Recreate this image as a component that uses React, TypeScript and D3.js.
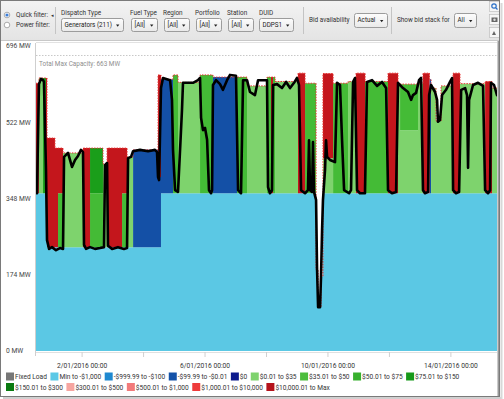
import { useMemo } from "react";
import * as d3 from "d3";

const FONT = "Roboto, 'Noto Sans', sans-serif";

// time window shown: hours counted from 31/12/2015 12:00
const rangeStart = new Date(2015, 11, 31, 12);
const rangeHours = 360;
const tickDays = [2, 4, 6, 8, 10, 12, 14];
const labelDays = [2, 6, 10, 14];
const yTicks = [0, 174, 348, 522, 696];
const maxCapacity = 663;

// bid stack, one value per band for each segment (segment starts at segHours[i])
const segHours = [0, 2.3, 5.5, 7.8, 8.6, 14.8, 17.2, 21.1, 36.7, 42.2, 52.3, 55.5, 67.2, 71.1, 75.8, 95.3, 97.6, 107.0, 110.9, 128.1, 138.2, 157.0, 164.8, 180.4, 183.5, 185.1, 186.7, 204.6, 210.1, 218.7, 220.3, 222.6, 224.1, 232.0, 243.7, 249.9, 257.0, 274.9, 282.7, 284.3, 298.3, 302.2, 307.3, 308.5, 312.4, 316.3, 325.7, 331.1, 350.7, 356.1];
const minTo1000 = [360, 360, 360, 360, 237, 237, 237, 237, 237, 237, 237, 237, 237, 237, 237, 237, 360, 360, 360, 360, 360, 360, 360, 360, 360, 360, 360, 360, 360, 185, 100, 170, 360, 360, 360, 360, 360, 360, 360, 360, 360, 360, 360, 360, 360, 360, 360, 360, 360, 360];
const neg99 = [0, 0, 0, 0, 0, 0, 0, 0, 0, 0, 0, 0, 0, 0, 222, 160, 260, 0, 0, 0, 265, 0, 0, 0, 0, 0, 0, 0, 0, 0, 0, 0, 0, 0, 0, 0, 0, 0, 0, 0, 0, 0, 260, 0, 0, 0, 0, 0, 0, 0];
const p0to35 = [0, 263, 0, 0, 0, 0, 0, 215, 0, 0, 190, 0, 0, 206, 0, 0, 0, 0, 253, 0, 0, 0, 245, 0, 0, 0, 255, 0, 0, 0, 0, 0, 80, 0, 255, 0, 0, 0, 250, 144, 250, 0, 0, 240, 165, 245, 0, 250, 0, 240];
const p35to50 = [0, 0, 0, 0, 0, 0, 123, 0, 0, 123, 0, 0, 123, 0, 0, 0, 0, 270, 0, 270, 0, 265, 0, 265, 0, 265, 0, 0, 251, 0, 0, 0, 0, 251, 0, 0, 255, 0, 0, 105, 0, 0, 0, 0, 0, 0, 0, 0, 0, 0];
const p75to150 = [0, 0, 263, 0, 0, 0, 0, 0, 0, 103, 0, 0, 0, 0, 0, 0, 0, 0, 0, 0, 0, 0, 0, 0, 0, 0, 0, 0, 0, 0, 0, 0, 0, 0, 0, 0, 0, 0, 0, 0, 0, 0, 0, 0, 0, 0, 0, 0, 0, 0];
const p10000 = [251, 0, 0, 263, 249, 226, 103, 0, 226, 0, 0, 226, 103, 0, 0, 233, 0, 0, 0, 0, 0, 0, 0, 0, 265, 0, 0, 274, 0, 0, 0, 0, 193, 0, 0, 274, 0, 274, 0, 0, 0, 274, 0, 0, 0, 0, 274, 0, 255, 0];

// dispatched output (black line)
const genHours = [0.8, 2.3, 3.9, 5.5, 6.2, 7.8, 8.6, 10.2, 12.5, 15.6, 18.7, 21.1, 21.9, 25.0, 28.1, 30.5, 32.8, 35.1, 36.7, 37.5, 39.1, 42.2, 46.1, 50.0, 53.1, 53.9, 55.5, 56.2, 59.4, 64.0, 68.7, 71.1, 71.9, 74.2, 75.8, 81.2, 87.5, 92.9, 94.5, 95.3, 96.1, 97.6, 99.2, 104.7, 106.2, 107.0, 108.6, 110.9, 112.5, 114.0, 114.8, 122.6, 126.5, 128.1, 128.9, 130.4, 132.0, 133.6, 135.1, 136.7, 137.5, 138.2, 140.6, 143.7, 146.0, 149.2, 151.5, 156.2, 157.8, 160.1, 161.7, 164.8, 167.1, 171.0, 173.4, 180.4, 181.2, 182.7, 184.3, 185.1, 188.2, 192.1, 195.3, 198.4, 201.5, 203.8, 205.4, 207.0, 210.1, 212.4, 213.2, 214.0, 215.6, 216.3, 217.1, 218.7, 219.5, 220.3, 221.8, 222.6, 223.4, 224.1, 225.7, 226.5, 227.3, 229.6, 233.5, 235.1, 237.4, 239.0, 240.6, 244.5, 246.0, 247.6, 249.1, 250.7, 253.0, 256.9, 258.5, 262.4, 266.3, 270.2, 273.4, 274.9, 278.0, 281.2, 282.7, 286.6, 290.5, 292.9, 294.4, 296.8, 299.1, 300.7, 302.2, 303.8, 306.2, 307.0, 308.5, 311.6, 313.2, 313.9, 315.5, 317.1, 320.2, 323.3, 324.9, 325.7, 328.0, 330.4, 332.0, 335.1, 336.6, 337.4, 338.2, 341.3, 345.2, 349.1, 350.7, 353.0, 354.6, 355.3, 357.7, 360];
const genMW = [360, 609, 621, 618, 614, 413, 253, 233, 237, 230, 235, 233, 443, 452, 420, 436, 445, 459, 454, 242, 233, 237, 233, 235, 237, 424, 429, 240, 233, 237, 233, 235, 440, 443, 456, 459, 456, 459, 454, 397, 390, 600, 623, 618, 573, 459, 367, 363, 459, 550, 612, 612, 618, 623, 532, 504, 509, 482, 367, 360, 367, 607, 618, 609, 596, 618, 630, 628, 367, 360, 618, 618, 591, 584, 618, 618, 374, 360, 367, 607, 609, 600, 614, 600, 612, 623, 607, 367, 360, 367, 481, 367, 363, 477, 363, 345, 185, 100, 100, 173, 276, 345, 413, 481, 443, 436, 431, 612, 607, 481, 367, 360, 367, 614, 623, 367, 360, 360, 614, 618, 605, 614, 600, 367, 360, 363, 612, 600, 591, 573, 584, 589, 618, 623, 367, 360, 363, 584, 607, 591, 573, 523, 527, 584, 596, 614, 623, 367, 360, 363, 596, 600, 584, 418, 573, 607, 612, 605, 367, 360, 367, 612, 607, 584];

const bandKeys = ["minTo1000", "neg99", "p0to35", "p35to50", "p75to150", "p10000"];
const bandValues = [minTo1000, neg99, p0to35, p35to50, p75to150, p10000];
const bandColors = ["#5bc8e4", "#1450a6", "#7ed36d", "#44bb36", "#1a9e1a", "#c4161c"];

const legendLabels = ["Fixed Load", "Min to -$1,000", "-$999.99 to -$100", "-$99.99 to -$0.01", "$0", "$0.01 to $35", "$35.01 to $50", "$50.01 to $75", "$75.01 to $150", "$150.01 to $300", "$300.01 to $500", "$500.01 to $1,000", "$1,000.01 to $10,000", "$10,000.01 to Max"];
const legendColors = ["#777777", "#5bc8e6", "#1e88d0", "#1452a8", "#0c1a8c", "#7fd36e", "#4dbd3d", "#38b02e", "#16991a", "#0a7a10", "#f6a5a0", "#f27a7a", "#ee3b3b", "#b5121b"];

const W = 504;
const H = 399;
const margin = { left: 36, right: 497, top: 43, bottom: 352 };

const toDate = (h: number) => new Date(rangeStart.getTime() + h * 3600e3);

function measure(text: string, size: number) {
  const ctx = document.createElement("canvas").getContext("2d");
  if (!ctx) return text.length * size * 0.5;
  ctx.font = `${size}px Roboto`;
  return ctx.measureText(text).width;
}

function Dropdown({ x, y, w, h, label }: { x: number; y: number; w: number; h: number; label: string }) {
  return (
    <g>
      <rect x={x + 0.5} y={y + 0.5} width={w} height={h} rx={2} fill="url(#ddGrad)" stroke="#9c9c9c" />
      <text x={x + 3.5} y={y + h / 2 + 2.4} fontSize={6.3} fill="#222">{label}</text>
      <path d={`M${x + w - 7},${y + h / 2} l3.4,0 l-1.7,2.2z`} fill="#222" />
    </g>
  );
}

export default function App() {
  const x = d3.scaleTime().domain([toDate(0), toDate(rangeHours)]).range([margin.left, margin.right]);
  const y = d3.scaleLinear().domain([0, 696]).range([351, 46]);

  const rows = useMemo(() => {
    const r = segHours.map((h, i) => {
      const row: Record<string, number> = { t: h };
      bandKeys.forEach((k, j) => (row[k] = bandValues[j][i]));
      return row;
    });
    r.push({ ...r[r.length - 1], t: rangeHours });
    return r;
  }, []);

  const series = d3.stack<Record<string, number>>().keys(bandKeys)(rows);

  const area = d3
    .area<d3.SeriesPoint<Record<string, number>>>()
    .x((d) => x(toDate(d.data.t)))
    .y0((d) => y(d[0]))
    .y1((d) => y(d[1]))
    .curve(d3.curveStepAfter);

  const topLine = d3
    .line<Record<string, number>>()
    .x((d) => x(toDate(d.t)))
    .y((d) => y(bandKeys.reduce((s, k) => s + d[k], 0)))
    .curve(d3.curveStepAfter);

  const genLine = d3
    .line<number>()
    .x((_, i) => x(toDate(genHours[i])))
    .y((d) => y(d));

  const fmt = d3.timeFormat("%-d/%m/%Y %H:%M");

  // legend flow layout
  const legendItems = useMemo(() => {
    const size = 6.6;
    const out: { x: number; y: number; label: string; color: string }[] = [];
    let cx = 6;
    let row = 0;
    legendLabels.forEach((label, i) => {
      const w = 9 + measure(label, size) + 3.5;
      if (cx + w > 492) {
        cx = 6;
        row += 1;
      }
      out.push({ x: cx, y: 372.5 + row * 10.5, label, color: legendColors[i] });
      cx += w;
    });
    return out;
  }, []);

  return (
    <svg width={W} height={H} style={{ position: "absolute", left: 0, top: 0, fontFamily: FONT }}>
      <defs>
        <linearGradient id="tbGrad" x1="0" y1="0" x2="0" y2="1">
          <stop offset="0" stopColor="#f3f3f3" />
          <stop offset="1" stopColor="#e4e4e4" />
        </linearGradient>
        <linearGradient id="ddGrad" x1="0" y1="0" x2="0" y2="1">
          <stop offset="0" stopColor="#fdfdfd" />
          <stop offset="1" stopColor="#e9e9e9" />
        </linearGradient>
        <clipPath id="plotClip">
          <rect x={margin.left} y={margin.top} width={margin.right - margin.left} height={margin.bottom - margin.top} />
        </clipPath>
      </defs>

      <rect x={0} y={0} width={W} height={H} fill="#fff" />

      {/* toolbar */}
      <rect x={0} y={0} width={500} height={40} fill="url(#tbGrad)" />
      <line x1={0} x2={500} y1={40.5} y2={40.5} stroke="#c8c8c8" />
      <circle cx={7} cy={15} r={2.8} fill="#fff" stroke="#8a8a8a" strokeWidth={0.7} />
      <circle cx={7} cy={15} r={1.6} fill="#3b7dd8" />
      <circle cx={7} cy={25} r={2.8} fill="#fff" stroke="#8a8a8a" strokeWidth={0.7} />
      <g fontSize={6.4} fill="#333">
        <text x={16} y={17.3}>Quick filter:</text>
        <text x={16} y={27.3}>Power filter:</text>
        <text x={51} y={17.3} fontSize={5}>◂</text>
        <text x={61} y={15}>Dispatch Type</text>
        <text x={130} y={15}>Fuel Type</text>
        <text x={163} y={15}>Region</text>
        <text x={195} y={15}>Portfolio</text>
        <text x={227} y={15}>Station</text>
        <text x={259} y={15}>DUID</text>
        <text x={309} y={22.3}>Bid availability</text>
        <text x={397} y={22.3}>Show bid stack for</text>
      </g>
      {[55.5, 303.5, 391.5].map((sx) => (
        <line key={sx} x1={sx} x2={sx} y1={7} y2={34} stroke="#c4c4c4" />
      ))}
      <Dropdown x={61} y={18} w={62} h={13} label="Generators (211)" />
      <Dropdown x={131} y={18} w={26} h={13} label="[All]" />
      <Dropdown x={164} y={18} w={25} h={13} label="[All]" />
      <Dropdown x={196} y={18} w={25} h={13} label="[All]" />
      <Dropdown x={228} y={18} w={25} h={13} label="[All]" />
      <Dropdown x={259} y={18} w={34} h={13} label="DDPS1" />
      <Dropdown x={354} y={13} w={33} h={14} label="Actual" />
      <Dropdown x={454} y={13} w={22} h={14} label="All" />
      {/* right-hand tool buttons */}
      <g>
        <rect x={489.5} y={1.5} width={10} height={10} fill="#f6f6f6" stroke="#b8b8b8" strokeWidth={0.6} />
        <circle cx={494} cy={6} r={2.2} fill="none" stroke="#2a70c8" strokeWidth={1.2} />
        <line x1={495.6} y1={7.6} x2={497.5} y2={9.5} stroke="#2a70c8" strokeWidth={1.3} />
        <rect x={489.5} y={14.5} width={10} height={10} fill="#f6f6f6" stroke="#b8b8b8" strokeWidth={0.6} />
        <rect x={491.5} y={17.5} width={6} height={4.5} fill="#666" />
        <circle cx={494.5} cy={19.7} r={1.2} fill="#ddd" />
        <rect x={489.5} y={27.5} width={10} height={10} fill="#f6f6f6" stroke="#b8b8b8" strokeWidth={0.6} />
        <path d="M492,35 l2,-4 l2,4z" fill="#666" />
      </g>

      {/* plot frame */}
      <line x1={margin.left - 0.5} x2={margin.left - 0.5} y1={margin.top} y2={margin.bottom + 4} stroke="#cfcfcf" />
      <line x1={margin.left} x2={margin.right} y1={margin.top - 0.5} y2={margin.top - 0.5} stroke="#e2e2e2" />
      <line
        x1={margin.left}
        x2={margin.right}
        y1={margin.top + 12.5}
        y2={margin.top + 12.5}
        stroke="#c8c8c8"
        strokeDasharray="1.5,1.5"
      />
      <text x={margin.left + 3} y={margin.top + 23} fontSize={6.4} fill="#8e8e8e">
        {`Total Max Capacity: ${maxCapacity} MW`}
      </text>

      <g clipPath="url(#plotClip)">
        {series.map((s, i) => (
          <path key={s.key} d={area(s) ?? ""} fill={bandColors[i]} />
        ))}
        <path d={topLine(rows) ?? ""} fill="none" stroke="#e8312f" strokeWidth={1} strokeDasharray="1.5,1.2" />
        <path
          d={genLine(genMW) ?? ""}
          fill="none"
          stroke="#000"
          strokeWidth={2.6}
          strokeLinejoin="round"
          strokeLinecap="round"
        />
      </g>

      {/* y axis labels */}
      {yTicks.map((v) => (
        <text key={v} x={6} y={y(v) + 2.4} fontSize={6.7} fill="#444">{`${v} MW`}</text>
      ))}

      {/* x axis */}
      <line x1={margin.left} x2={margin.right} y1={margin.bottom + 0.5} y2={margin.bottom + 0.5} stroke="#e0e0e0" />
      {tickDays.map((d) => {
        const tx = x(new Date(2016, 0, d));
        return <line key={d} x1={tx} x2={tx} y1={margin.bottom} y2={margin.bottom + 5} stroke="#d0d0d0" />;
      })}
      {labelDays.map((d) => {
        const dt = new Date(2016, 0, d);
        return (
          <text key={d} x={x(dt)} y={367.5} fontSize={6.7} fill="#333" textAnchor="middle">
            {fmt(dt)}
          </text>
        );
      })}

      {/* legend */}
      {legendItems.map((it) => (
        <g key={it.label}>
          <rect x={it.x} y={it.y} width={8} height={8} fill={it.color} />
          <text x={it.x + 9} y={it.y + 6.6} fontSize={6.6} fill="#333">{it.label}</text>
        </g>
      ))}

      {/* window frame + shadow */}
      <line x1={498.5} x2={498.5} y1={41} y2={396} stroke="#9a9a9a" strokeWidth={2} />
      <rect x={0.5} y={0.5} width={499} height={396} fill="none" stroke="#7a7a7a" />
      <rect x={3} y={397} width={499} height={2} fill="#d0d0d0" />
      <rect x={500.5} y={3} width={2} height={396} fill="#d8d8d8" />
    </svg>
  );
}
